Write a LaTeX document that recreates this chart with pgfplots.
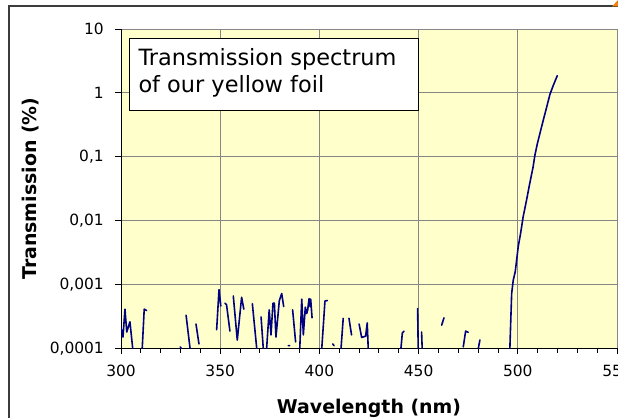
\documentclass[border=0pt]{standalone}
\usepackage{fontspec}
\setmainfont{DejaVu Sans}
\usepackage{pgfplots}
\pgfplotsset{compat=1.18}
\definecolor{bgyellow}{RGB}{255,255,204}
\definecolor{gridgray}{RGB}{134,134,134}
\definecolor{navyline}{RGB}{0,0,128}
\definecolor{framegray}{RGB}{60,60,60}
\begin{document}
\begin{tikzpicture}[x=1bp,y=1bp]
\useasboundingbox (0,0) rectangle (618,417);
\draw[framegray, line width=1.3bp] (9,-10) -- (9,411) -- (630,411);
\fill[orange!80!brown] (612,410.5) -- (618,417) -- (618,410.5) -- cycle;
\begin{axis}[
  at={(121bp,68.7bp)}, anchor=south west,
  scale only axis, width=496bp, height=319.3bp,
  xmin=300, xmax=550, ymode=log, ymin=1e-4, ymax=10,
  axis background/.style={fill=bgyellow},
  axis x line*=bottom, axis y line*=left,
  axis line style={-, black, line width=1bp},
  xtick={300,350,400,450,500,550},
  xticklabels={300,350,400,450,500,550},
  minor x tick num=4,
  ytick={1e-4,1e-3,1e-2,1e-1,1,10},
  yticklabels={{0,0001},{0,001},{0,01},{0,1},1,10},
  yminorticks=false,
  tick align=outside,
  major tick length=6bp, minor tick length=4.5bp,
  tick style={black, line width=0.9bp},
  xmajorgrids, ymajorgrids,
  major grid style={gridgray, line width=0.9bp},
  /pgf/number format/assume math mode=true,
  tick label style={font=\fontsize{15.5}{18}\selectfont, inner sep=0pt},
  yticklabel style={anchor=east, xshift=-11bp},
  xticklabel style={anchor=north, yshift=-10.4bp},
  xlabel={Wavelength (nm)},
  ylabel={Transmission (\%)},
  label style={font=\bfseries\fontsize{19}{22}\selectfont, inner sep=0pt},
  xlabel style={at={(axis description cs:0.5,-0.2026)}, anchor=base},
  ylabel style={at={(axis description cs:-0.170,0.5)}, anchor=base, rotate=0},
  clip=true,
  unbounded coords=jump,
]
\addplot[navyline, line width=1.6bp, line join=round, line cap=round] table[row sep=\\] {
x y \\
300.0 2.1e-4 \\ 301.0 1.5e-4 \\ 302.0 4.1e-4 \\ 302.9 1.8e-4 \\ 304.5 2.6e-4 \\ 305.9 1.0e-4 \\
306.5 nan \\
310.7 1.0e-4 \\ 311.7 4.1e-4 \\ 312.9 3.9e-4 \\
313.5 nan \\
329.8 1.05e-4 \\ 330.4 1.0e-4 \\
331.0 nan \\
332.8 3.3e-4 \\ 334.8 1.0e-4 \\
335.5 nan \\
337.8 2.4e-4 \\ 339.3 1.17e-4 \\
340.0 nan \\
348.2 1.95e-4 \\ 349.4 8.3e-4 \\ 350.3 4.6e-4 \\
351.0 nan \\
352.4 5.1e-4 \\ 353.2 4.8e-4 \\ 354.9 1.86e-4 \\
355.5 nan \\
356.6 6.6e-4 \\ 358.6 1.35e-4 \\ 360.8 6.3e-4 \\ 361.9 4.1e-4 \\
362.5 nan \\
366.2 5.0e-4 \\ 368.4 1.0e-4 \\
369.0 nan \\
370.6 3.1e-4 \\ 371.7 1.0e-4 \\
372.5 nan \\
373.4 1.0e-4 \\ 374.7 4.0e-4 \\ 375.6 1.62e-4 \\ 376.6 5.1e-4 \\ 377.3 5.1e-4 \\ 378.1 1.5e-4 \\ 379.8 5.6e-4 \\ 381.0 7.2e-4 \\ 382.0 4.5e-4 \\
383.0 nan \\
384.3 1.1e-4 \\ 385.0 1.1e-4 \\
385.7 nan \\
386.5 4.0e-4 \\ 388.0 1.26e-4 \\
389.0 nan \\
390.1 1.0e-4 \\ 391.1 5.9e-4 \\ 391.9 1.62e-4 \\ 392.9 4.4e-4 \\ 393.6 3.5e-4 \\ 394.1 4.0e-4 \\ 394.8 6.0e-4 \\ 395.3 4.5e-4 \\ 395.6 5.9e-4 \\ 396.3 3.0e-4 \\
397.0 nan \\
401.2 1.0e-4 \\ 402.8 5.5e-4 \\ 404.0 5.6e-4 \\
405.0 nan \\
406.7 1.17e-4 \\ 407.4 1.1e-4 \\
408.0 nan \\
410.9 1.0e-4 \\ 412.0 2.95e-4 \\
413.0 nan \\
414.9 2.95e-4 \\ 416.2 1.62e-4 \\
417.0 nan \\
420.0 2.4e-4 \\ 421.3 1.48e-4 \\ 423.3 1.55e-4 \\ 424.1 2.5e-4 \\ 424.6 1.0e-4 \\
425.5 nan \\
441.1 1.0e-4 \\ 441.8 1.74e-4 \\ 442.7 1.86e-4 \\
443.5 nan \\
449.5 4.2e-4 \\ 449.8 1.0e-4 \\
450.5 nan \\
451.5 1.8e-4 \\ 451.8 1.0e-4 \\
452.5 nan \\
461.6 2.3e-4 \\ 462.8 3.0e-4 \\
463.5 nan \\
472.5 1.05e-4 \\ 473.7 1.86e-4 \\ 475.0 1.78e-4 \\
476.0 nan \\
480.1 1.0e-4 \\ 480.9 1.35e-4 \\
482.0 nan \\
496.0 1.0e-4 \\ 496.4 2.45e-4 \\ 496.9 7.2e-4 \\ 497.7 1.17e-3 \\ 498.7 1.58e-3 \\ 499.4 2.4e-3 \\
500.2 3.9e-3 \\ 501.4 6.3e-3 \\ 502.7 0.0115 \\ 504.4 0.0209 \\ 506.0 0.038 \\ 507.7 0.069 \\
508.6 0.105 \\ 509.8 0.158 \\ 511.1 0.229 \\ 512.8 0.37 \\ 514.5 0.59 \\ 516.2 0.95 \\
517.8 1.29 \\ 519.9 1.86 \\
};
\end{axis}
\draw[black, line width=1bp, fill=white] (129,307) rectangle (418,379);
\node[anchor=base west, inner sep=0pt, font=\fontsize{22.5}{26}\selectfont] at (138.3,352) {Transmission spectrum};
\node[anchor=base west, inner sep=0pt, font=\fontsize{22.5}{26}\selectfont] at (138.3,325) {of our yellow foil};
\end{tikzpicture}
\end{document}
